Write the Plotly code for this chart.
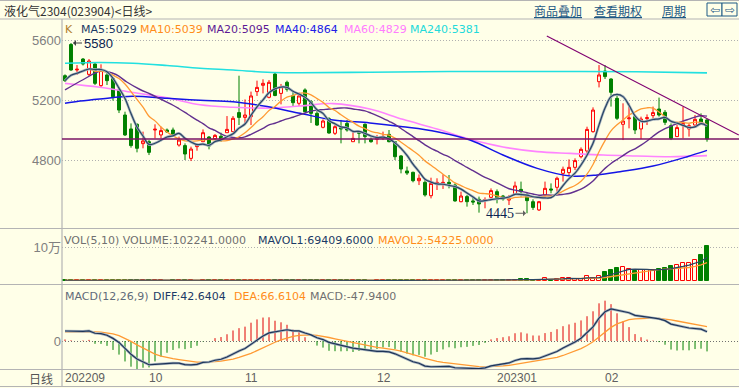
import numpy as np
import pandas as pd
import plotly.graph_objects as go

# ---------------- data ----------------
OPEN = [5362, 5570, 5400, 5473, 5371, 5440, 5296, 5367, 5344, 5267,
        5100, 5007, 5038, 4909, 4922, 5000, 4967, 5000, 5000, 4900,
        4896, 4811, 4889, 4922, 4953, 4942, 4958, 4982, 4989, 5116,
        5084, 5089, 5256, 5298, 5218, 5373, 5244, 5318, 5229, 5178,
        5267, 5189, 5111, 5018, 5075, 4978, 5015, 5044, 4922, 4989,
        5038, 4938, 4938, 4944, 4971, 4922, 4827, 4727, 4718, 4662,
        4651, 4562, 4640, 4640, 4651, 4633, 4522, 4556, 4527, 4538,
        4530, 4551, 4589, 4560, 4533, 4571, 4604, 4556, 4522, 4467,
        4567, 4607, 4618, 4711, 4716, 4751, 4822, 4860, 4989, 5322,
        5393, 5340, 5211, 5038, 5075, 5089, 5007, 5076, 5096, 5140,
        5118, 5029, 4956, 5033, 5007, 5033, 5073, 5067]
HIGH = [5371, 5580, 5433, 5480, 5473, 5445, 5438, 5380, 5350, 5270,
        5122, 5044, 5045, 4989, 4933, 5038, 5022, 5010, 5016, 4956,
        4911, 4889, 4911, 5004, 4960, 4973, 4982, 5093, 5093, 5362,
        5204, 5256, 5329, 5338, 5333, 5380, 5307, 5329, 5256, 5249,
        5278, 5200, 5133, 5071, 5085, 5033, 5067, 5067, 4989, 4993,
        5044, 4950, 4967, 4989, 5000, 4927, 4833, 4756, 4722, 4704,
        4667, 4682, 4678, 4704, 4700, 4644, 4589, 4567, 4556, 4556,
        4551, 4611, 4604, 4567, 4567, 4656, 4656, 4582, 4538, 4527,
        4656, 4644, 4689, 4756, 4804, 4811, 4884, 5022, 5151, 5433,
        5433, 5345, 5238, 5178, 5178, 5100, 5089, 5104, 5156, 5216,
        5133, 5044, 5038, 5156, 5044, 5100, 5111, 5073]
LOW = [5320, 5395, 5367, 5430, 5360, 5300, 5282, 5300, 5196, 5113,
       4960, 4882, 4851, 4878, 4833, 4944, 4944, 4980, 4956, 4889,
       4800, 4793, 4862, 4922, 4871, 4933, 4922, 4982, 4989, 5033,
       5033, 5033, 5227, 5244, 5211, 5225, 5171, 5256, 5160, 5160,
       5120, 5047, 5027, 5011, 4975, 4967, 4911, 4989, 4922, 4911,
       4911, 4915, 4904, 4933, 4918, 4800, 4711, 4700, 4651, 4633,
       4556, 4544, 4600, 4607, 4611, 4522, 4518, 4489, 4500, 4449,
       4478, 4544, 4511, 4529, 4500, 4567, 4556, 4445, 4467, 4460,
       4556, 4578, 4589, 4656, 4700, 4733, 4811, 4844, 4982, 5284,
       5340, 5156, 5067, 4933, 5011, 4973, 4940, 5033, 5067, 5089,
       5033, 4933, 4956, 4944, 4956, 5022, 5038, 4922]
CLOSE = [5329, 5400, 5405, 5440, 5460, 5311, 5400, 5329, 5222, 5133,
         4967, 4896, 4878, 4927, 4851, 5005, 4996, 4987, 4967, 4933,
         4840, 4873, 4900, 4982, 4893, 4964, 4933, 5004, 5078, 5084,
         5100, 5227, 5284, 5311, 5318, 5230, 5289, 5271, 5182, 5227,
         5122, 5111, 5033, 5060, 4980, 5022, 5008, 5000, 4944, 4978,
         4956, 4922, 4949, 4956, 4922, 4822, 4740, 4713, 4662, 4678,
         4567, 4644, 4651, 4651, 4640, 4527, 4560, 4522, 4520, 4507,
         4536, 4596, 4549, 4540, 4545, 4627, 4589, 4529, 4484, 4522,
         4611, 4600, 4678, 4738, 4751, 4796, 4871, 5004, 5133, 5367,
         5356, 5251, 5078, 5060, 5080, 5000, 5073, 5082, 5116, 5100,
         5051, 4944, 5016, 5044, 5029, 5071, 5051, 4940]
VOLUME = [2200, 1800, 2500, 1600, 2100, 2400, 1900, 1700, 2600, 2300,
          2800, 2500, 2100, 1800, 2400, 1600, 1500, 1300, 1700, 1900,
          2200, 2000, 1400, 1800, 2100, 1500, 1600, 2300, 2500, 3000,
          2400, 2700, 2200, 1900, 2100, 2600, 2000, 1800, 2300, 1700,
          2500, 2200, 2000, 1800, 2100, 1600, 1900, 1700, 1500, 1800,
          2000, 1400, 1600, 1700, 1900, 2600, 2900, 2200, 2400, 2000,
          2700, 2500, 1900, 2100, 1800, 2600, 2300, 2000, 1900, 2800,
          2400, 2600, 2300, 1900, 2200, 3000, 6000, 6000, 3500, 3000,
          10000, 4000, 5000, 10000, 10000, 5000, 6000, 15000, 8000, 15000,
          25600, 32000, 39000, 40000, 35000, 30000, 33000, 33000, 33000, 35000,
          37000, 44000, 46202, 52000, 54000, 63000, 75807, 102241]

# long moving averages (candle index, value)
MA20_EARLY_X = [0, 3, 6, 8.5, 10.3, 12.5, 14.2, 16, 18]
MA20_EARLY_Y = [5267, 5335, 5393, 5370, 5320, 5270, 5240, 5205, 5165]
MA40_X = [0, 2.5, 5.8, 11.3, 17, 22.5, 28, 33.7, 39.2, 44.7, 50.8, 56.3, 62,
          67.5, 73, 78.7, 84.2, 88.7, 92.5, 98, 103.7, 107]
MA40_Y = [5178, 5193, 5207, 5225, 5211, 5198, 5189, 5156, 5111, 5067, 5047,
          5022, 4989, 4933, 4833, 4744, 4693, 4700, 4722, 4760, 4822, 4864]
MA60_X = [0, 5.8, 11.3, 17, 22.5, 28, 33.7, 39.2, 44.7, 50.8, 56.3, 62, 67.5,
          73, 78.7, 84.2, 89.7, 95.3, 100.8, 107]
MA60_Y = [5311, 5285, 5250, 5215, 5168, 5152, 5146, 5160, 5176, 5140, 5071,
          5007, 4938, 4887, 4856, 4844, 4833, 4827, 4822, 4829]
MA240_X = [0, 5.8, 11.3, 17, 22.5, 28, 33.7, 39.2, 50.8, 64, 78.7, 95.3, 107]
MA240_Y = [5445, 5450, 5445, 5430, 5412, 5400, 5385, 5382, 5385, 5390, 5390,
           5388, 5381]

EMA12_SEED, EMA26_SEED, DEA_SEED = 5385, 5330, 42

DATE_LABELS = ["202209", "10", "11", "12", "202301", "02"]
DATE_POS = [0, 14, 30, 52, 72, 90]
PRICE_TICKS = [4800, 5200, 5600]
VOL_TICKS = [100000]
VOL_TICKTEXT = ["10万"]
HLINE_PRICE = 4940
TREND_X = [80.3, 112.3]
TREND_Y = [5627, 4967]
HIGH_MARK = (1, 5580)
LOW_MARK = (77, 4445)

PRICE_LEGEND = [("K", "#B07D2B"), ("MA5:5029", "#1C3A66"), ("MA10:5039", "#FF8C1A"),
                ("MA20:5095", "#5E1A94"), ("MA40:4864", "#2020E6"),
                ("MA60:4829", "#FF7CFF"), ("MA240:5381", "#22DADA")]
PRICE_LEGEND_X = [64, 80, 139, 206, 274, 343, 409]
VOL_LEGEND = [("VOL(5,10) VOLUME:102241.0000", "#707070"),
              ("MAVOL1:69409.6000", "#1C3A66"), ("MAVOL2:54225.0000", "#FF8C1A")]
VOL_LEGEND_X = [63, 257, 377]
MACD_LEGEND = [("MACD(12,26,9)", "#5F6B7A"), ("DIFF:42.6404", "#1C3A66"),
               ("DEA:66.6104", "#FF8C1A"), ("MACD:-47.9400", "#707070")]
MACD_LEGEND_X = [64, 152, 233, 309]

# ---------------- derived series ----------------
idx = np.arange(len(CLOSE))
cs = pd.Series(CLOSE, dtype=float)
ma5 = cs.rolling(5, min_periods=1).mean()
ma10 = cs.rolling(10, min_periods=1).mean()
ma20_calc = cs.rolling(20).mean()
ma20_x = list(MA20_EARLY_X) + list(idx[19:])
ma20_y = list(MA20_EARLY_Y) + list(ma20_calc.values[19:])

vs = pd.Series(VOLUME, dtype=float)
mavol1 = vs.rolling(5, min_periods=1).mean()
mavol2 = vs.rolling(10, min_periods=1).mean()


def ema(values, seed, n):
    k = 2.0 / (n + 1)
    out, e = [], seed
    for v in values:
        e = e + k * (v - e)
        out.append(e)
    return np.array(out)


diff = ema(CLOSE, EMA12_SEED, 12) - ema(CLOSE, EMA26_SEED, 26)
dea = ema(diff, DEA_SEED, 9)
macd = 2 * (diff - dea)

# ---------------- layout helpers ----------------
W, H = 739, 388
BG = "#FFFFE8"
GRID = "#B0B0B0"
SEP = "#B4B4B4"


def fx(px):
    return px / W


def fy(py):
    return 1 - py / H


XR = [-0.5, 112.33]
PRICE_DOM = [fy(228), fy(20)]
VOL_DOM = [fy(284), fy(229)]
MACD_DOM = [fy(369), fy(285)]

fig = go.Figure()

# price panel
fig.add_trace(go.Candlestick(
    x=idx, open=OPEN, high=HIGH, low=LOW, close=CLOSE,
    increasing=dict(line=dict(color="#FF0000", width=1), fillcolor=BG),
    decreasing=dict(line=dict(color="#008000", width=1), fillcolor="#008000"),
    whiskerwidth=0, hoverinfo="skip", showlegend=False, xaxis="x", yaxis="y"))

fig.add_trace(go.Scatter(x=MA240_X, y=MA240_Y, mode="lines", line=dict(color="#22E0E0", width=1.6, shape="spline"),
                         hoverinfo="skip", showlegend=False, xaxis="x", yaxis="y"))
fig.add_trace(go.Scatter(x=MA60_X, y=MA60_Y, mode="lines", line=dict(color="#FF84FF", width=1.6, shape="spline"),
                         hoverinfo="skip", showlegend=False, xaxis="x", yaxis="y"))
fig.add_trace(go.Scatter(x=MA40_X, y=MA40_Y, mode="lines", line=dict(color="#1414E6", width=1.5, shape="spline"),
                         hoverinfo="skip", showlegend=False, xaxis="x", yaxis="y"))
fig.add_trace(go.Scatter(x=ma20_x, y=ma20_y, mode="lines", line=dict(color="#62308F", width=1.4, shape="spline"),
                         hoverinfo="skip", showlegend=False, xaxis="x", yaxis="y"))
fig.add_trace(go.Scatter(x=idx, y=ma10, mode="lines", line=dict(color="#FF9A33", width=1.3, shape="spline"),
                         hoverinfo="skip", showlegend=False, xaxis="x", yaxis="y"))
fig.add_trace(go.Scatter(x=idx, y=ma5, mode="lines", line=dict(color="#A8B4C0", width=2.6, shape="spline"),
                         hoverinfo="skip", showlegend=False, xaxis="x", yaxis="y"))
fig.add_trace(go.Scatter(x=idx, y=ma5, mode="lines", line=dict(color="#2A4664", width=1.2, shape="spline"),
                         hoverinfo="skip", showlegend=False, xaxis="x", yaxis="y"))

# volume panel
up = np.array(CLOSE) >= np.array(OPEN)
vol = np.array(VOLUME)
fig.add_trace(go.Bar(x=idx[up], y=vol[up], width=0.7, marker=dict(color=BG, line=dict(color="#FF0000", width=1)),
                     hoverinfo="skip", showlegend=False, xaxis="x2", yaxis="y2"))
fig.add_trace(go.Bar(x=idx[~up], y=vol[~up], width=0.7, marker=dict(color="#008000", line=dict(color="#008000", width=1)),
                     hoverinfo="skip", showlegend=False, xaxis="x2", yaxis="y2"))
fig.add_trace(go.Scatter(x=idx, y=mavol2, mode="lines", line=dict(color="#FF9A33", width=1.3),
                         hoverinfo="skip", showlegend=False, xaxis="x2", yaxis="y2"))
fig.add_trace(go.Scatter(x=idx, y=mavol1, mode="lines", line=dict(color="#2A4664", width=1.2),
                         hoverinfo="skip", showlegend=False, xaxis="x2", yaxis="y2"))

# macd panel
px_, py_, nx_, ny_ = [], [], [], []
for i, v in zip(idx, macd):
    if v >= 0:
        px_ += [i, i, None]
        py_ += [0, v, None]
    else:
        nx_ += [i, i, None]
        ny_ += [0, v, None]
fig.add_trace(go.Scatter(x=px_, y=py_, mode="lines", line=dict(color="#E00000", width=1),
                         hoverinfo="skip", showlegend=False, xaxis="x3", yaxis="y3"))
fig.add_trace(go.Scatter(x=nx_, y=ny_, mode="lines", line=dict(color="#008000", width=1),
                         hoverinfo="skip", showlegend=False, xaxis="x3", yaxis="y3"))
fig.add_trace(go.Scatter(x=idx, y=dea, mode="lines", line=dict(color="#FF9A33", width=1.3),
                         hoverinfo="skip", showlegend=False, xaxis="x3", yaxis="y3"))
fig.add_trace(go.Scatter(x=idx, y=diff, mode="lines", line=dict(color="#A8B4C0", width=2.6),
                         hoverinfo="skip", showlegend=False, xaxis="x3", yaxis="y3"))
fig.add_trace(go.Scatter(x=idx, y=diff, mode="lines", line=dict(color="#1E3558", width=1.2),
                         hoverinfo="skip", showlegend=False, xaxis="x3", yaxis="y3"))

xcommon = dict(range=XR, showgrid=False, zeroline=False, showticklabels=False, ticks="",
               showline=False, fixedrange=True, domain=[fx(62), 1])
tickfont = dict(family="Liberation Sans, Noto Sans CJK SC", size=13, color="#808080")

shapes = []
# separators and borders
for py in [0.5, 19, 228.5, 284.5, 369.5, 386.5]:
    shapes.append(dict(type="line", xref="paper", yref="paper", x0=0, x1=1, y0=fy(py), y1=fy(py),
                       line=dict(color=SEP, width=1.2), layer="above"))
shapes.append(dict(type="line", xref="paper", yref="paper", x0=fx(62), x1=fx(62), y0=fy(387), y1=fy(19),
                   line=dict(color=SEP, width=1.2), layer="above"))
# user drawn lines
shapes.append(dict(type="line", xref="x", yref="y", x0=XR[0], x1=XR[1], y0=HLINE_PRICE, y1=HLINE_PRICE,
                   line=dict(color="#7A1464", width=1.6), layer="above"))
shapes.append(dict(type="line", xref="x", yref="y", x0=TREND_X[0], x1=TREND_X[1], y0=TREND_Y[0], y1=TREND_Y[1],
                   line=dict(color="#800070", width=1.1), layer="above"))
# arrow buttons
for x0 in [707, 722]:
    shapes.append(dict(type="rect", xref="paper", yref="paper", x0=fx(x0), x1=fx(x0 + 15),
                       y0=fy(16), y1=fy(3), line=dict(color="#1F5A85", width=1), fillcolor=BG))

ann = []
ann.append(dict(text="液化气2304(023904)<日线>", x=fx(2), y=fy(10), xref="paper", yref="paper",
                xanchor="left", yanchor="middle", showarrow=False,
                font=dict(family="Noto Sans CJK SC", size=12, color="#333333")))
for t, cx in [("商品叠加", 558), ("查看期权", 618), ("周期", 673.5)]:
    ann.append(dict(text="<u>" + t + "</u>", x=fx(cx), y=fy(10), xref="paper", yref="paper",
                    xanchor="center", yanchor="middle", showarrow=False,
                    font=dict(family="Noto Sans CJK SC", size=12, color="#1F5A85")))
for t, cx in [("⇦", 714.5), ("⇨", 729.5)]:
    ann.append(dict(text=t, x=fx(cx), y=fy(9.5), xref="paper", yref="paper", xanchor="center",
                    yanchor="middle", showarrow=False,
                    font=dict(family="DejaVu Sans", size=12, color="#1F5A85")))


def legend(items, xs, py):
    for (t, c), x in zip(items, xs):
        ann.append(dict(text=t, x=fx(x), y=fy(py), xref="paper", yref="paper", xanchor="left",
                        yanchor="middle", showarrow=False, borderpad=0,
                        font=dict(family="DejaVu Sans", size=11, color=c)))


legend(PRICE_LEGEND, PRICE_LEGEND_X, 30)
legend(VOL_LEGEND, VOL_LEGEND_X, 240)
legend(MACD_LEGEND, MACD_LEGEND_X, 296)

ann.append(dict(text="日线", x=fx(55), y=fy(378), xref="paper", yref="paper", xanchor="right",
                yanchor="middle", showarrow=False,
                font=dict(family="Noto Sans CJK SC", size=12, color="#555555")))
for t, p in zip(DATE_LABELS, DATE_POS):
    ann.append(dict(text=t, x=p, y=fy(378), xref="x3", yref="paper", xanchor="left", xshift=-2,
                    yanchor="middle", showarrow=False,
                    font=dict(family="Liberation Sans", size=12, color="#606060")))

ann.append(dict(text="5580", x=HIGH_MARK[0], y=HIGH_MARK[1], xref="x", yref="y", showarrow=True,
                ax=27, ay=0, arrowhead=1, arrowsize=1, arrowwidth=1, arrowcolor="#404040", standoff=2,
                font=dict(family="Liberation Sans", size=13, color="#0C2450")))
ann.append(dict(text="4445", x=LOW_MARK[0], y=LOW_MARK[1], xref="x", yref="y", showarrow=True,
                ax=-27, ay=0, arrowhead=1, arrowsize=1, arrowwidth=1, arrowcolor="#606060", standoff=1,
                font=dict(family="Liberation Serif", size=14, color="#0C2450")))

fig.update_layout(
    width=W, height=H, margin=dict(l=0, r=0, t=0, b=0),
    paper_bgcolor=BG, plot_bgcolor=BG, showlegend=False, bargap=0,
    xaxis=dict(rangeslider=dict(visible=False), anchor="y", **xcommon),
    xaxis2=dict(anchor="y2", **xcommon),
    xaxis3=dict(anchor="y3", **xcommon),
    yaxis=dict(domain=PRICE_DOM, range=[4346.7, 5733.3], tickvals=PRICE_TICKS,
               ticktext=[str(v) for v in PRICE_TICKS], showgrid=True, gridcolor=GRID,
               griddash="1px,2px", gridwidth=1, zeroline=False, ticks="", showline=False,
               tickfont=tickfont, fixedrange=True, anchor="x", automargin=False),
    yaxis2=dict(domain=VOL_DOM, range=[-8824, 152941], tickvals=VOL_TICKS, ticktext=VOL_TICKTEXT,
                showgrid=True, gridcolor=GRID, griddash="1px,2px", gridwidth=1, zeroline=False,
                ticks="", showline=False, tickfont=tickfont, fixedrange=True, anchor="x2",
                automargin=False),
    yaxis3=dict(domain=MACD_DOM, range=[-130.2, 260.5], tickvals=[0], ticktext=["0"],
                showgrid=True, gridcolor="#707070", griddash="1px,2px", gridwidth=1, zeroline=False,
                ticks="", showline=False, tickfont=tickfont, fixedrange=True, anchor="x3",
                automargin=False),
    shapes=shapes, annotations=ann,
)

fig.write_html("out.html", config=dict(displayModeBar=False),
               post_script="document.body.style.margin='0px';document.body.style.overflow='hidden';")
